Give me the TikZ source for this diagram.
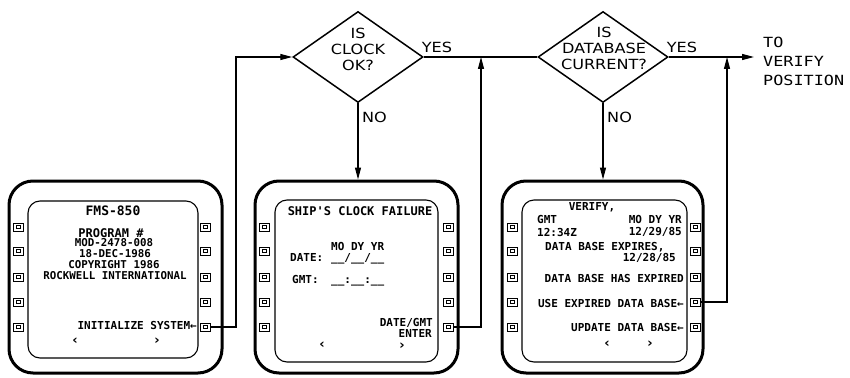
\documentclass[tikz,border=0pt]{standalone}
\usepackage{graphicx}
\usepackage{fontspec}
\setmainfont{DejaVu Sans}
\newfontfamily\monof{DejaVu Sans Mono}
\newfontfamily\dfont{DejaVu Sans}
\usetikzlibrary{shapes.geometric,arrows.meta}
\newcommand\xs[1]{\scalebox{1.15}[1]{#1}}
\newcommand\mx[1]{\scalebox{1.2}[1]{#1}}
\tikzset{
  conn/.style={line width=1.2pt},
  arr/.style={-{Triangle[length=12pt,width=6pt]}},
  dia/.style={diamond, draw, line width=1.5pt, minimum width=130pt, minimum height=91pt, inner sep=0pt},
  dtxt/.style={font=\dfont\fontsize{14}{16}\selectfont, align=center, inner sep=0pt},
  bezel/.style={draw, line width=3pt, rounded corners=24pt, inner sep=0pt},
  lcd/.style={draw, line width=1.1pt, rounded corners=12pt, inner sep=0pt},
  btn/.style={draw, line width=0.9pt, minimum width=10pt, minimum height=8pt, inner sep=0pt,
    path picture={\draw[line width=0.7pt] ([xshift=-2pt,yshift=-1.5pt]path picture bounding box.center) rectangle ([xshift=2pt,yshift=1.5pt]path picture bounding box.center);}},
  scr/.style={font=\monof\bfseries\fontsize{11}{12}\selectfont, inner sep=0pt},
  scrT/.style={font=\monof\bfseries\fontsize{12}{13}\selectfont, inner sep=0pt},
  scrS/.style={font=\monof\bfseries\fontsize{10.8}{11}\selectfont, inner sep=0pt},
  chev/.style={font=\dfont\bfseries\fontsize{13}{14}\selectfont, inner sep=0pt}
}
\begin{document}
\begin{tikzpicture}[x=1pt,y=-1pt]
\useasboundingbox (0,0) rectangle (850,377);

% decisions
\node[dia] (d1) at (358,57) {};
\node[dtxt] (d1t) at (358,49) {\xs{IS}\\\xs{CLOCK}\\\xs{OK?}};
\node[dia] (d2) at (603,57) {};
\node[dtxt] (d2t) at (604,48) {\xs{IS}\\\xs{DATABASE}\\\xs{CURRENT?}};
\node[dtxt] (y1) at (437,47) {\xs{YES}};
\node[dtxt] (y2) at (682,47) {\xs{YES}};
\node[dtxt, anchor=west] (n1) at (362,117) {\xs{NO}};
\node[dtxt, anchor=west] (n2) at (607,117) {\xs{NO}};

% screens
\node[bezel, minimum width=213pt, minimum height=192pt] (s1o) at (115.5,277) {};
\node[lcd, minimum width=170pt, minimum height=157pt] (s1i) at (113,279.5) {};
\node[bezel, minimum width=203pt, minimum height=192pt] (s2o) at (356.5,277) {};
\node[lcd, minimum width=163pt, minimum height=162pt] (s2i) at (356.5,281) {};
\node[bezel, minimum width=201pt, minimum height=192pt] (s3o) at (602.5,277) {};
\node[lcd, minimum width=165pt, minimum height=162pt] (s3i) at (604.5,281) {};

\foreach \yy [count=\i] in {227,251,277,302,327} {
  \node[btn] (s1l\i) at (18,\yy) {};
  \node[btn] (s1r\i) at (205,\yy) {};
  \node[btn] (s2l\i) at (264,\yy) {};
  \node[btn] (s2r\i) at (448,\yy) {};
  \node[btn] (s3l\i) at (512,\yy) {};
  \node[btn] (s3r\i) at (695,\yy) {};
}

% screen 1 text
\node[font=\monof\bfseries\fontsize{13}{14}\selectfont, inner sep=0pt] (a1) at (113,211) {FMS-850};
\node[scrT] (a2) at (111,233) {PROGRAM \#};
\node[scrS] (a3) at (114,243) {MOD-2478-008};
\node[scrS] (a4) at (115,254) {18-DEC-1986};
\node[scrS] (a5) at (114,265) {COPYRIGHT 1986};
\node[scrS] (a6) at (115,276) {ROCKWELL INTERNATIONAL};
\node[scr, anchor=east] (a7) at (197,325) {INITIALIZE SYSTEM←};
\node[chev] (a8) at (75,341) {‹};
\node[chev] (a9) at (157,341) {›};

% screen 2 text
\node[scrT] (b1) at (360,211) {SHIP'S CLOCK FAILURE};
\node[scr, anchor=west] (b2) at (331,246) {MO DY YR};
\node[scr, anchor=west] (b3) at (290,257) {DATE:};
\node[scr, anchor=base west] (b4) at (331,261) {\_\_/\_\_/\_\_};
\node[scr, anchor=west] (b5) at (292,279) {GMT:};
\node[scr, anchor=base west] (b6) at (331,283) {\_\_:\_\_:\_\_};
\node[scr, anchor=east] (b7) at (433,323) {DATE/GMT};
\node[scr, anchor=east] (b8) at (432,333) {ENTER};
\node[chev] (b9) at (322,345) {‹};
\node[chev] (b10) at (402,346) {›};

% screen 3 text
\node[scr] (c1) at (592,207) {VERIFY,};
\node[scr, anchor=west] (c2) at (537,219) {GMT};
\node[scr, anchor=west] (c3) at (537,232) {12:34Z};
\node[scr, anchor=east] (c4) at (682,219) {MO DY YR};
\node[scr, anchor=east] (c5) at (682,232) {12/29/85};
\node[scr, anchor=west] (c6) at (545,247) {DATA BASE EXPIRES,};
\node[scr, anchor=east] (c7) at (676,258) {12/28/85};
\node[scr, anchor=east] (c8) at (684,278) {DATA BASE HAS EXPIRED};
\node[scr, anchor=east] (c9) at (684,303) {USE EXPIRED DATA BASE←};
\node[scr, anchor=east] (c10) at (684,327) {UPDATE DATA BASE←};
\node[chev] (c11) at (607,344) {‹};
\node[chev] (c12) at (650,344) {›};

% exit text
\node[anchor=west, align=left, font=\monof\fontsize{14}{19}\selectfont, inner sep=0pt] (tv) at (763,61) {\mx{TO}\\\mx{VERIFY}\\\mx{POSITION}};

% connectors
\coordinate (k1) at (236,57);
\coordinate (j1) at (481,57);
\coordinate (j2) at (727,57);
\coordinate (tgt) at (754,57);
\draw[conn,arr] (s1r5.east) -| (k1) -- (d1.west);
\draw[conn] (d1.east) -- (d2.west);
\draw[conn,arr] (s2r5.east) -| (j1);
\draw[conn,arr] (d2.east) -- (tgt);
\draw[conn,arr] (s3r4.east) -| (j2);
\draw[conn,arr] (d1.south) -- (d1.south |- s2o.north);
\draw[conn,arr] (d2.south) -- (d2.south |- s3o.north);
\end{tikzpicture}
\end{document}
